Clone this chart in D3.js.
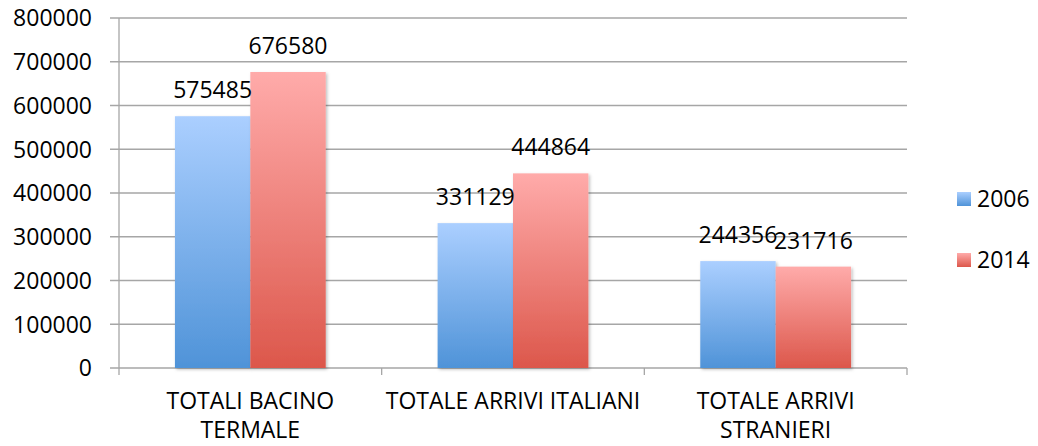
<!DOCTYPE html>
<html><head><meta charset="utf-8">
<script src="https://cdn.jsdelivr.net/npm/d3@7"></script>
<style>body{margin:0;background:#fff}svg{display:block}text{font-family:"Open Sans",sans-serif;fill:#000}</style>
</head><body>
<svg id="c" width="1038" height="446"></svg>
<script>
const categories = [["TOTALI BACINO","TERMALE"],["TOTALE ARRIVI ITALIANI"],["TOTALE ARRIVI","STRANIERI"]];
const series = ["2006","2014"];
const values2006 = [575485, 331129, 244356];
const values2014 = [676580, 444864, 231716];
const yTicks = [0,100000,200000,300000,400000,500000,600000,700000,800000];

const svg = d3.select("#c");
const fs = 23;
const L = 119, R = 907, T = 18, B = 368;
const x = d3.scaleBand().domain(d3.range(categories.length)).range([L, R]).paddingInner(0).paddingOuter(0);
const y = d3.scaleLinear().domain([0, 800000]).range([B, T]);
const inner = d3.scaleBand().domain(series).range([0, x.bandwidth()]).paddingInner(0).paddingOuter(0.742);

const defs = svg.append("defs");
const grads = [["g0","#abcfff","#4f93d8"],["g1","#ffabaa","#dc574b"]];
grads.forEach(([id,a,b])=>{
  const g = defs.append("linearGradient").attr("id",id).attr("x1",0).attr("y1",0).attr("x2",0).attr("y2",1);
  g.append("stop").attr("offset","0%").attr("stop-color",a);
  g.append("stop").attr("offset","100%").attr("stop-color",b);
});
const f = defs.append("filter").attr("id","sh").attr("x","-10%").attr("y","-10%").attr("width","130%").attr("height","130%");
f.append("feDropShadow").attr("dx",1.5).attr("dy",1.5).attr("stdDeviation",1.5).attr("flood-color","#000").attr("flood-opacity",0.25);

// gridlines
svg.append("g").selectAll("line").data(yTicks).join("line")
  .attr("x1", L-9).attr("x2", R).attr("y1", d=>y(d)).attr("y2", d=>y(d))
  .attr("stroke","#a6a6a6").attr("stroke-width",1.3);
// y axis line
svg.append("line").attr("x1",L).attr("x2",L).attr("y1",T).attr("y2",B+7).attr("stroke","#a6a6a6").attr("stroke-width",1.3);
// bottom category ticks
svg.append("g").selectAll("line").data(d3.range(1,categories.length+1)).join("line")
  .attr("x1", d=>L + d*x.bandwidth()).attr("x2", d=>L + d*x.bandwidth())
  .attr("y1", B).attr("y2", B+7).attr("stroke","#a6a6a6").attr("stroke-width",1.3);

// y tick labels
svg.append("g").selectAll("text").data(yTicks).join("text")
  .attr("x", 92).attr("y", d=>y(d)).attr("dy","0.36em").attr("text-anchor","end")
  .attr("font-size",fs).text(d=>d);

const data = [values2006, values2014];
const gBars = svg.append("g");
series.forEach((s,si)=>{
  gBars.selectAll(".b"+si).data(data[si]).join("rect")
    .attr("x",(d,i)=>x(i)+inner(s)).attr("width",inner.bandwidth())
    .attr("y",d=>y(d)).attr("height",d=>B-y(d))
    .attr("fill",`url(#g${si})`).attr("filter","url(#sh)");
});
series.forEach((s,si)=>{
  svg.append("g").selectAll("text").data(data[si]).join("text")
    .attr("x",(d,i)=>x(i)+inner(s)+inner.bandwidth()/2).attr("y",d=>y(d)-18)
    .attr("text-anchor","middle").attr("font-size",fs).text(d=>d);
});

// category labels
categories.forEach((lines,i)=>{
  const t = svg.append("text").attr("text-anchor","middle").attr("font-size",fs);
  lines.forEach((ln,j)=>{
    t.append("tspan").attr("x", x(i)+x.bandwidth()/2).attr("y", 409 + j*29).text(ln);
  });
});

// legend
const leg = svg.append("g");
series.forEach((s,si)=>{
  const yy = 199 + si*61;
  leg.append("rect").attr("x",957).attr("y",yy-7).attr("width",14).attr("height",14).attr("fill",`url(#g${si})`);
  leg.append("text").attr("x",977).attr("y",yy).attr("dy","0.36em").attr("font-size",fs).text(s);
});
</script>
</body></html>
